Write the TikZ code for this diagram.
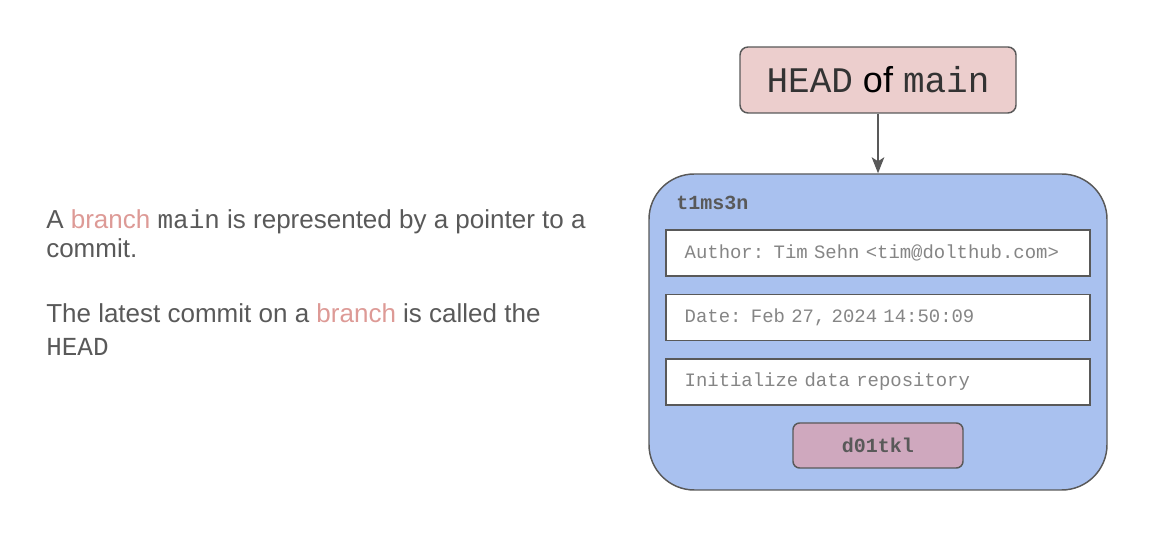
\documentclass[tikz,border=0pt]{standalone}
\usepackage{fontspec}
\setmainfont{Liberation Sans}
\setmonofont{Liberation Mono}
\usepackage{xcolor}
\usepackage{tikz}
\usetikzlibrary{positioning,arrows.meta}

\definecolor{headFill}{HTML}{ECCECD}
\definecolor{commitFill}{HTML}{A9C1EF}
\definecolor{hashFill}{HTML}{CFA8BE}
\definecolor{lineGray}{HTML}{595959}
\definecolor{fieldGray}{HTML}{858585}
\definecolor{branchRed}{HTML}{DD9A96}

\begin{document}
\begin{tikzpicture}[x=0.75pt, y=-0.75pt]
        \tikzstyle{pointer} = [draw=lineGray, fill=headFill, rectangle, 
            rounded corners=6pt, line width=1.1pt,
            minimum width=207pt, minimum height=49.5pt]
        \tikzstyle{commit} = [draw=lineGray, fill=commitFill, rectangle, 
            rounded corners=34pt, line width=1.1pt,
            minimum width=343.5pt, minimum height=237pt]
        \tikzstyle{field} = [draw=lineGray, fill=white, rectangle, 
            line width=1.1pt, inner xsep=14pt, text width=290pt,
            minimum height=34.5pt, align=left, text=fieldGray,
            font=\fontsize{14.2}{17}\ttfamily]
        \tikzstyle{hash} = [draw=lineGray, fill=hashFill, rectangle, 
            rounded corners=5pt, line width=1.1pt,
            minimum width=127.5pt, minimum height=33.75pt,
            text=lineGray, font=\fontsize{15}{18}\ttfamily\bfseries]
        \tikzstyle{bodyText} = [anchor=base west, inner sep=0pt, 
            text=lineGray, font=\fontsize{19.5}{23}\selectfont]
        \tikzstyle{pointerEdge} = [draw=lineGray, line width=1.1pt, 
            -{Stealth[length=12pt,width=9.5pt,inset=3pt]}];

        \useasboundingbox (0,0) rectangle (1158,534);

        % explanation on the left
        \node[bodyText] (lineOne) at (46,229) 
            {A \textcolor{branchRed}{branch} \texttt{main} is represented by a pointer to a};
        \node[bodyText] (lineTwo) at (46,258) {commit.};
        \node[bodyText] (lineThree) at (46,323) 
            {The latest commit on a \textcolor{branchRed}{branch} is called the};
        \node[bodyText] (lineFour) at (46,356) {\texttt{HEAD}};

        % the branch pointer and the commit
        \node[pointer, font=\fontsize{27}{30}\selectfont] (headNode) at (878,80) 
            {\textcolor{black!80}{\texttt{HEAD}} of \textcolor{black!80}{\texttt{main}}};
        \node[commit] (commitNode) at (878,332) {};
        \node[anchor=base west, inner sep=0pt, text=lineGray,
            font=\fontsize{15}{18}\ttfamily\bfseries] (commitHash) at (676,210) {t1ms3n};

        \node[field] (authorField) at (878,253) {Author: Tim Sehn <tim@dolthub.com>};
        \node[field, below=12.75pt of authorField] (dateField) {Date: Feb 27, 2024 14:50:09};
        \node[field, below=12.75pt of dateField] (messageField) {Initialize data repository};
        \node[hash] (rootHash) at (878,445.5) {d01tkl};

        \draw[pointerEdge] (headNode) -- (commitNode);
    \end{tikzpicture}
\end{document}
